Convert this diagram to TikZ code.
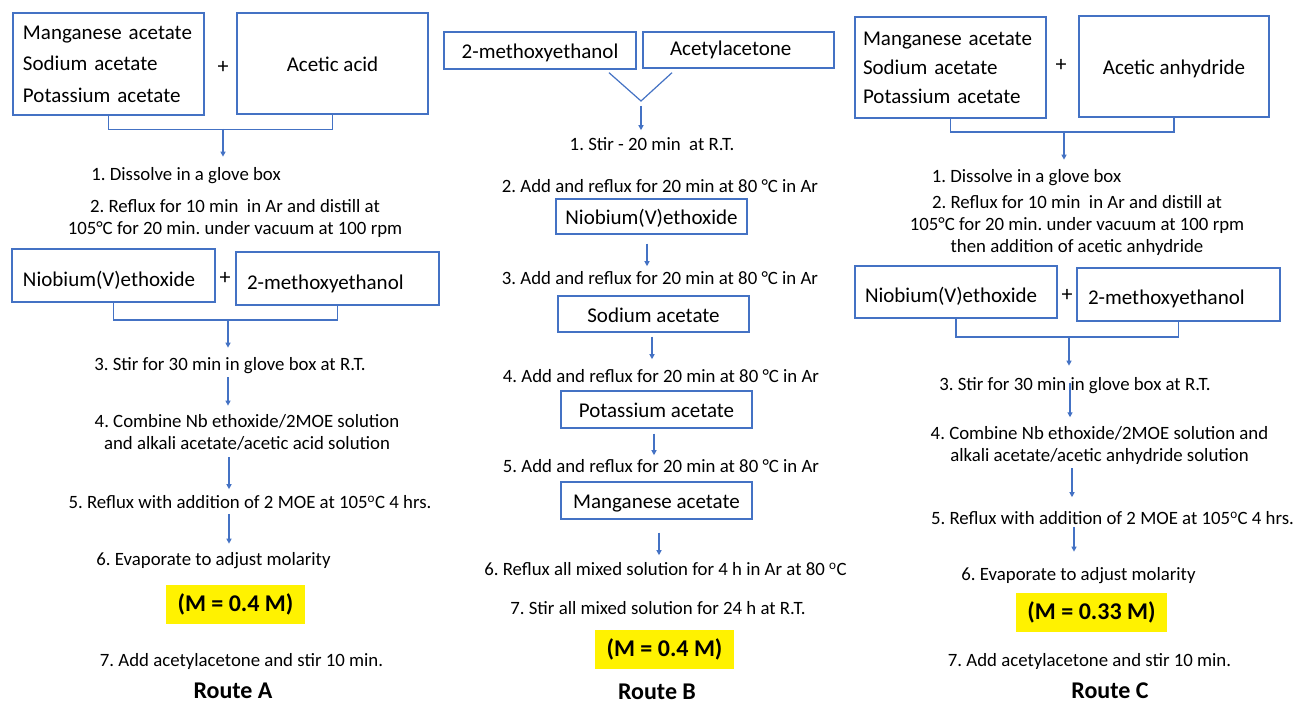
\documentclass[tikz,border=0pt]{standalone}
\usepackage{fontspec}
\setmainfont{Carlito}
\usetikzlibrary{arrows.meta}
\definecolor{lnblue}{HTML}{4472C4}
\definecolor{hlyellow}{HTML}{FFF200}
\begin{document}
\frenchspacing
\begin{tikzpicture}[x=1pt,y=-1pt,
  box/.style={draw=lnblue, line width=1.4pt, inner sep=0pt, font=\fontsize{21}{26}\selectfont},
  lbox/.style={box, align=left},
  stp/.style={inner sep=0pt, align=center, font=\fontsize{18.8}{21.5}\selectfont},
  conn/.style={draw=lnblue, line width=1.2pt},
  arr/.style={conn, -{Triangle[length=5pt,width=5pt]}},
  hl/.style={fill=hlyellow, inner sep=0pt, font=\bfseries\fontsize{24}{28}\selectfont},
  route/.style={inner sep=0pt, font=\bfseries\fontsize{24}{28}\selectfont},
  plus/.style={inner sep=0pt, font=\fontsize{22}{26}\selectfont}]
\fill[white] (0,0) rectangle (1295,706);
\useasboundingbox (0,0) rectangle (1295,706);

% ---------------- Route A ----------------
\node[lbox, minimum height=102pt, text width=171pt, inner xsep=10pt,
      font=\fontsize{21}{31.5}\selectfont] (a1) at (108.5,64)
      {Manganese acetate\\Sodium acetate\\Potassium acetate};
\node[plus] (pa1) at (223,67) {+};
\node[box, minimum width=191pt, minimum height=101pt, text height=17pt, text depth=0pt] (a2) at (332.5,63.5) {Acetic acid};
\draw[conn] (a1.south) -- ++(0,14) -| (a2.south);
\coordinate (ja1) at (223,129);
\node[stp] (sa1) at (186,176) {1. Dissolve in a glove box};
\node[stp] (sa2) at (235,218.5) {2. Reflux for 10 min\ \ in Ar and distill at\\105°C for 20 min. under vacuum at 100 rpm};
\draw[arr, shorten >=11pt] (ja1) -- (ja1 |- sa1.north);

\node[lbox, minimum height=53pt, text width=181pt, inner xsep=11pt, text height=22pt, text depth=0pt] (a3) at (113.5,275.5) {Niobium(V)ethoxide};
\node[plus] (pa2) at (225,278) {+};
\node[lbox, minimum height=53pt, text width=181pt, inner xsep=11pt, text height=21pt, text depth=0pt] (a4) at (337.5,278.5) {2-methoxyethanol};
\draw[conn] (a3.south) -- (a3.south |- 0,320) -| (a4.south);
\coordinate (ja2) at (228,320);
\coordinate (xa) at (228,0);
\coordinate (xa2) at (229,0);
\node[stp] (sa3) at (230,366) {3. Stir for 30 min in glove box at R.T.};
\draw[arr, shorten >=10pt] (ja2) -- (ja2 |- sa3.north);
\node[stp] (sa4) at (247,432.5) {4. Combine Nb ethoxide/2MOE solution\\and alkali acetate/acetic acid solution};
\draw[arr, shorten <=3pt, shorten >=9pt] (sa3.south -| xa) -- (sa4.north -| xa);
\node[stp] (sa5) at (250,502) {5. Reflux with addition of 2 MOE at 105\textsuperscript{o}C 4 hrs.};
\draw[arr, shorten <=7pt, shorten >=6pt] (sa4.south -| xa2) -- (sa5.north -| xa2);
\node[stp] (sa6) at (213.5,561) {6. Evaporate to adjust molarity};
\draw[arr, shorten <=5pt, shorten >=9pt] (sa5.south -| xa2) -- (sa6.north -| xa2);
\node[hl, minimum width=139pt, minimum height=39pt] (ya) at (235.5,604.5) {(M = 0.4 M)};
\node[stp] (sa7) at (241.5,661) {7. Add acetylacetone and stir 10 min.};
\node[route] (ra) at (233,691) {Route A};

% ---------------- Route B ----------------
\node[box, minimum width=192pt, minimum height=37pt, text height=17pt, text depth=0pt] (b1) at (540,50.5) {2-methoxyethanol};
\node[box, minimum width=191pt, minimum height=36pt, text width=137pt, inner xsep=27pt, align=left] (b2) at (738.5,50) {Acetylacetone};
\coordinate (vb) at (641,101);
\draw[conn] ([shift={(69,3)}]b1.south) -- (vb) -- ([shift={(-66.5,4)}]b2.south);
\node[stp] (sb1) at (652,144) {1. Stir - 20 min\ \ at R.T.};
\draw[arr, shorten <=5pt, shorten >=7pt] (vb) -- (vb |- sb1.north);
\node[stp] (sb2) at (660,186) {2. Add and reflux for 20 min at 80 °C in Ar};
\node[box, minimum width=191pt, minimum height=35pt, text height=16pt, text depth=0pt] (b3) at (651.5,216.5) {Niobium(V)ethoxide};
\node[stp] (sb3) at (660,278) {3. Add and reflux for 20 min at 80 °C in Ar};
\coordinate (xb3) at (647,0);
\draw[arr, shorten <=9pt, shorten >=5pt] (b3.south -| xb3) -- (sb3.north -| xb3);
\node[box, minimum width=191pt, minimum height=36pt, text height=16pt, text depth=0pt] (b4) at (653.5,314) {Sodium acetate};
\node[stp] (sb4) at (661,376) {4. Add and reflux for 20 min at 80 °C in Ar};
\coordinate (xb4) at (652,0);
\draw[arr, shorten <=4pt, shorten >=10pt] (b4.south -| xb4) -- (sb4.north -| xb4);
\node[box, minimum width=191pt, minimum height=37pt, text height=16pt, text depth=0pt] (b5) at (656.5,409.5) {Potassium acetate};
\node[stp] (sb5) at (661,466) {5. Add and reflux for 20 min at 80 °C in Ar};
\coordinate (xb5) at (654,0);
\draw[arr, shorten <=5pt, shorten >=4pt] (b5.south -| xb5) -- (sb5.north -| xb5);
\node[box, minimum width=191pt, minimum height=37pt, text height=16pt, text depth=0pt] (b6) at (656.5,500.5) {Manganese acetate};
\node[stp] (sb6) at (665.5,569) {6. Reflux all mixed solution for 4 h in Ar at 80 \textsuperscript{o}C};
\coordinate (xb6) at (659,0);
\draw[arr, shorten <=13pt, shorten >=7pt] (b6.south -| xb6) -- (sb6.north -| xb6);
\node[stp] (sb7) at (658,608) {7. Stir all mixed solution for 24 h at R.T.};
\node[hl, minimum width=139pt, minimum height=39pt] (yb) at (664.5,649.5) {(M = 0.4 M)};
\node[route] (rb) at (657,692) {Route B};

% ---------------- Route C ----------------
\node[lbox, minimum height=101pt, text width=175pt, inner xsep=8pt,
      font=\fontsize{21}{29}\selectfont] (c1) at (950.5,67.5)
      {Manganese acetate\\Sodium acetate\\Potassium acetate};
\node[plus] (pc1) at (1061,65) {+};
\node[box, minimum width=190pt, minimum height=101pt, text height=17pt, text depth=0pt] (c2) at (1174,66.5) {Acetic anhydride};
\draw[conn] (c1.south) -- (c1.south |- 0,132) -| (c2.south);
\coordinate (jc1) at (1064,132);
\node[stp] (sc1) at (1026.5,178) {1. Dissolve in a glove box};
\draw[arr, shorten >=10pt] (jc1) -- (jc1 |- sc1.north);
\node[stp, font=\fontsize{18.8}{22}\selectfont] (sc2) at (1077,225) {2. Reflux for 10 min\ \ in Ar and distill at\\105°C for 20 min. under vacuum at 100 rpm\\then addition of acetic anhydride};

\node[lbox, minimum height=52pt, text width=182pt, inner xsep=10pt, text height=21pt, text depth=0pt] (c3) at (956,292) {Niobium(V)ethoxide};
\node[plus] (pc2) at (1067,295) {+};
\node[lbox, minimum height=53pt, text width=181pt, inner xsep=11pt, text height=19pt, text depth=0pt] (c4) at (1178.5,294.5) {2-methoxyethanol};
\draw[conn] (c3.south) -- (c3.south |- 0,337) -| (c4.south);
\coordinate (jc2) at (1069,337);
\node[stp] (sc3) at (1075,386) {3. Stir for 30 min in glove box at R.T.};
\draw[arr, shorten >=12pt] (jc2) -- (jc2 |- sc3.north);
\node[stp, font=\fontsize{18.8}{22}\selectfont] (sc4) at (1099.5,445) {4. Combine Nb ethoxide/2MOE solution and\\alkali acetate/acetic anhydride solution};
\coordinate (xc3) at (1070,0);
\draw[arr, shorten <=5pt, shorten >=8.5pt] (sc3.north -| xc3) -- (sc4.north -| xc3);
\node[stp] (sc5) at (1112.5,518) {5. Reflux with addition of 2 MOE at 105\textsuperscript{o}C 4 hrs.};
\coordinate (xc4) at (1072,0);
\draw[arr, shorten <=4pt, shorten >=14pt] (sc4.south -| xc4) -- (sc5.north -| xc4);
\node[stp] (sc6) at (1078.5,576) {6. Evaporate to adjust molarity};
\coordinate (xc5) at (1074,0);
\draw[arr, shorten <=2pt, shorten >=16pt] (sc5.south -| xc5) -- (sc6.north -| xc5);
\node[hl, minimum width=151pt, minimum height=39pt] (yc) at (1091.5,612.5) {(M = 0.33 M)};
\node[stp] (sc7) at (1089.5,661) {7. Add acetylacetone and stir 10 min.};
\node[route] (rc) at (1110,691) {Route C};
\end{tikzpicture}
\end{document}
